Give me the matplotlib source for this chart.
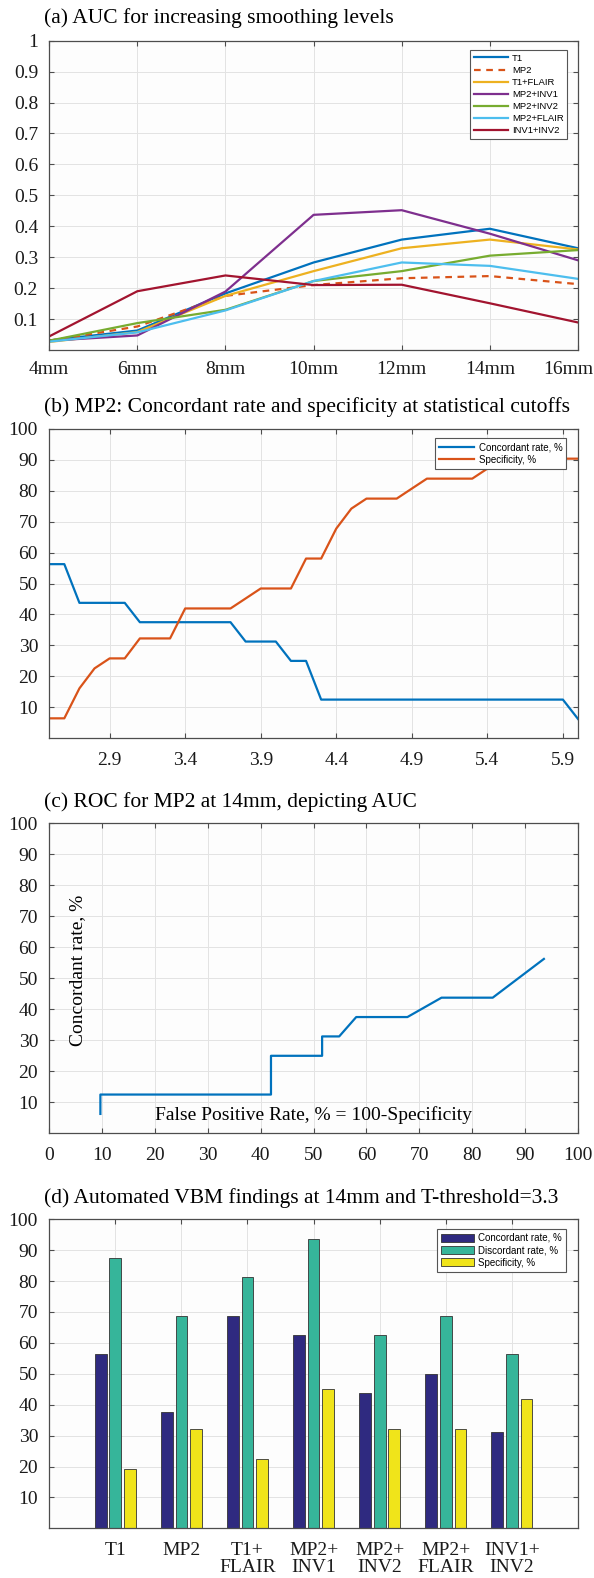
import numpy as np
import matplotlib
matplotlib.use('Agg')
import matplotlib.pyplot as plt

# ---- data ----
smoothing_labels = ['4mm', '6mm', '8mm', '10mm', '12mm', '14mm', '16mm']
auc_t1 = [0.031, 0.063, 0.183, 0.283, 0.357, 0.392, 0.329]
auc_mp2 = [0.030, 0.076, 0.175, 0.210, 0.232, 0.239, 0.213]
auc_t1_flair = [0.026, 0.058, 0.175, 0.255, 0.329, 0.357, 0.325]
auc_mp2_inv1 = [0.030, 0.047, 0.189, 0.437, 0.452, 0.376, 0.290]
auc_mp2_inv2 = [0.030, 0.087, 0.130, 0.223, 0.255, 0.305, 0.323]
auc_mp2_flair = [0.027, 0.057, 0.128, 0.223, 0.283, 0.272, 0.230]
auc_inv1_inv2 = [0.044, 0.190, 0.241, 0.210, 0.211, 0.151, 0.089]

cutoffs = [2.5, 2.6, 2.7, 2.8, 2.9, 3.0, 3.1, 3.2, 3.3, 3.4, 3.5, 3.6,
           3.7, 3.8, 3.9, 4.0, 4.1, 4.2, 4.3, 4.4, 4.5, 4.6, 4.7, 4.8,
           4.9, 5.0, 5.1, 5.2, 5.3, 5.4, 5.5, 5.6, 5.7, 5.8, 5.9, 6.0]
concordant = [56.25, 56.25, 43.75, 43.75, 43.75, 43.75, 37.5, 37.5, 37.5,
              37.5, 37.5, 37.5, 37.5, 31.25, 31.25, 31.25, 25.0, 25.0,
              12.5, 12.5, 12.5, 12.5, 12.5, 12.5, 12.5, 12.5, 12.5, 12.5,
              12.5, 12.5, 12.5, 12.5, 12.5, 12.5, 12.5, 6.25]
specificity = [6.45, 6.45, 16.13, 22.58, 25.81, 25.81, 32.26, 32.26, 32.26,
               41.94, 41.94, 41.94, 41.94, 45.16, 48.39, 48.39, 48.39, 58.06,
               58.06, 67.74, 74.19, 77.42, 77.42, 77.42, 80.65, 83.87, 83.87,
               83.87, 83.87, 87.10, 90.32, 90.32, 90.32, 90.32, 90.32, 90.32]

# ROC: false positive rate = 100 - specificity
roc_fpr = [100 - s for s in specificity]
roc_tpr = concordant

vbm_labels = ['T1', 'MP2', 'T1+\nFLAIR', 'MP2+\nINV1', 'MP2+\nINV2', 'MP2+\nFLAIR', 'INV1+\nINV2']
vbm_concordant = [56.25, 37.5, 68.75, 62.5, 43.75, 50.0, 31.25]
vbm_discordant = [87.5, 68.75, 81.25, 93.75, 62.5, 68.75, 56.25]
vbm_specificity = [19.35, 32.26, 22.58, 45.16, 32.26, 32.26, 41.94]

# ---- style ----
plt.rcParams['font.family'] = ['Liberation Serif', 'DejaVu Serif']
TICK_SIZE = 14
TITLE_SIZE = 15.5
SPINE = '#4d4d4d'
GRID = '#e3e3e3'

W, H = 594, 1578
fig = plt.figure(figsize=(W / 100, H / 100), dpi=100)


def make_axes(top_px, bottom_px, left_px=49.2, right_px=578.0):
    rect = [left_px / W, 1 - bottom_px / H, (right_px - left_px) / W, (bottom_px - top_px) / H]
    ax = fig.add_axes(rect)
    ax.set_facecolor('#fdfdfd')
    for s in ax.spines.values():
        s.set_color(SPINE)
        s.set_linewidth(0.9)
    ax.tick_params(direction='in', top=True, right=True, length=3.5, width=0.8,
                   color=SPINE, labelsize=TICK_SIZE, labelcolor='#1a1a1a', pad=8)
    ax.grid(True, color=GRID, linewidth=0.7)
    ax.set_axisbelow(True)
    return ax


def title(text, y_px):
    fig.text(43.6 / W, 1 - y_px / H, text, ha='left', va='center', fontsize=TITLE_SIZE)


def legend(ax, size=7.0, spacing=0.25, **kw):
    leg = ax.legend(loc='upper right', prop={'family': 'Liberation Sans', 'size': size},
                    fancybox=False, framealpha=1, edgecolor='#555555', borderpad=0.4,
                    labelspacing=spacing, handletextpad=0.45, borderaxespad=0, **kw)
    leg.get_frame().set_linewidth(0.8)
    return leg


# ---- (a) ----
ax = make_axes(40.7, 350.0)
x = np.arange(1, 8)
ax.plot(x, auc_t1, color='#0072BD', lw=1.6, label='T1')
ax.plot(x, auc_mp2, color='#D95319', lw=1.6, ls=(0, (3, 2.5)), label='MP2')
ax.plot(x, auc_t1_flair, color='#EDB120', lw=1.6, label='T1+FLAIR')
ax.plot(x, auc_mp2_inv1, color='#7E2F8E', lw=1.6, label='MP2+INV1')
ax.plot(x, auc_mp2_inv2, color='#77AC30', lw=1.6, label='MP2+INV2')
ax.plot(x, auc_mp2_flair, color='#4DBEEE', lw=1.6, label='MP2+FLAIR')
ax.plot(x, auc_inv1_inv2, color='#A2142F', lw=1.6, label='INV1+INV2')
ax.set_xlim(1, 7)
ax.set_ylim(0, 1)
ax.set_xticks(x)
# last label would run off the figure edge, so it is drawn separately
ax.set_xticklabels(smoothing_labels[:-1] + [''])
fig.text(593 / W, 1 - (350 + 8 * 100 / 72) / H, smoothing_labels[-1], ha='right', va='top',
         fontsize=TICK_SIZE, color='#1a1a1a')
yt = [0.1, 0.2, 0.3, 0.4, 0.5, 0.6, 0.7, 0.8, 0.9, 1.0]
ax.set_yticks(yt)
ax.set_yticklabels(['0.1', '0.2', '0.3', '0.4', '0.5', '0.6', '0.7', '0.8', '0.9', '1'])
legend(ax, size=6.8, spacing=0.33, bbox_to_anchor=(0.980, 0.970), handlelength=3.6)
title('(a) AUC for increasing smoothing levels', 18)

# ---- (b) ----
ax = make_axes(428.7, 738.3)
ax.plot(cutoffs, concordant, color='#0072BD', lw=1.6, label='Concordant rate, %')
ax.plot(cutoffs, specificity, color='#D95319', lw=1.6, label='Specificity, %')
ax.set_xlim(2.5, 6.0)
ax.set_ylim(0, 100)
ax.set_xticks([2.9, 3.4, 3.9, 4.4, 4.9, 5.4, 5.9])
ax.set_yticks(range(10, 101, 10))
ax.tick_params(axis='x', pad=10)
legend(ax, bbox_to_anchor=(0.978, 0.969), handlelength=3.6)
title('(b) MP2: Concordant rate and specificity at statistical cutoffs', 406.7)

# ---- (c) ----
ax = make_axes(823.3, 1133.3)
ax.plot(roc_fpr, roc_tpr, color='#0072BD', lw=1.6)
ax.set_xlim(0, 100)
ax.set_ylim(0, 100)
ax.set_xticks(range(0, 101, 10))
ax.set_yticks(range(10, 101, 10))
ax.tick_params(axis='x', pad=10)
ax.text(50, 6, 'False Positive Rate, % = 100-Specificity', ha='center', va='center',
        fontsize=TICK_SIZE)
ax.text(5.4, 52.7, 'Concordant rate, %', ha='center', va='center', rotation=90,
        fontsize=TICK_SIZE)
title('(c) ROC for MP2 at 14mm, depicting AUC', 801.7)

# ---- (d) ----
ax = make_axes(1219.3, 1528.3)
bw = 0.178
off = 0.222
ax.bar(x - off, vbm_concordant, bw, color='#2f2a80', edgecolor='#333333', lw=0.6,
       label='Concordant rate, %')
ax.bar(x, vbm_discordant, bw, color='#36b59a', edgecolor='#333333', lw=0.6,
       label='Discordant rate, %')
ax.bar(x + off, vbm_specificity, bw, color='#f0e41a', edgecolor='#333333', lw=0.6,
       label='Specificity, %')
ax.set_xlim(0, 8)
ax.set_ylim(0, 100)
ax.set_xticks(x)
ax.set_xticklabels(vbm_labels)
for lab in ax.get_xticklabels():
    lab.set_linespacing(0.95)
ax.set_yticks(range(10, 101, 10))
ax.tick_params(axis='x', pad=10)
legend(ax, bbox_to_anchor=(0.977, 0.9686), handlelength=3.4, handleheight=0.9)
title('(d) Automated VBM findings at 14mm and T-threshold=3.3', 1198)

fig.savefig('out.png', dpi=100)
